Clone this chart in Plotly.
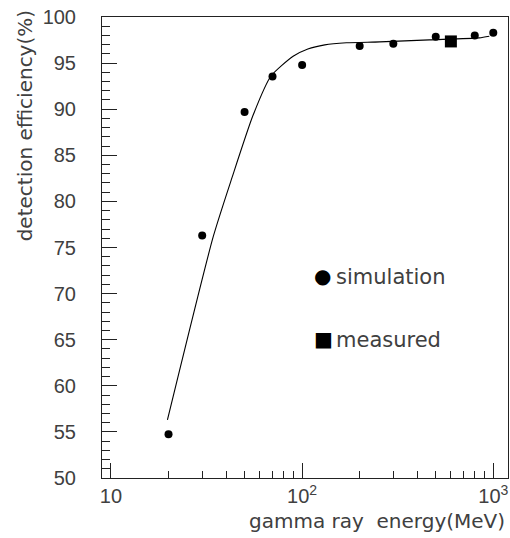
import plotly.graph_objects as go

# simulation points
sim_energy = [20, 30, 50, 70, 100, 200, 300, 500, 800, 1000]
sim_eff = [54.75, 76.3, 89.7, 93.55, 94.8, 96.85, 97.1, 97.85, 98.0, 98.3]

# measured point
meas_energy = [600]
meas_eff = [97.35]

# fitted curve
fit_energy = [19.74, 34.3, 42.96, 55.3, 68.6, 89.7, 107.1, 131.4, 170.5, 254.4, 463, 845, 953]
fit_eff = [56.3, 76.2, 82.57, 89.31, 93.57, 95.74, 96.53, 96.98, 97.2, 97.3, 97.52, 97.74, 97.92]

x_major = [10, 100, 1000]
x_major_text = ["10", "10<sup>2</sup>", "10<sup>3</sup>"]
x_minor = [20, 30, 40, 50, 60, 70, 80, 90, 200, 300, 400, 500, 600, 700, 800, 900]
y_major = [50, 55, 60, 65, 70, 75, 80, 85, 90, 95, 100]
y_minor = list(range(50, 101))

TICKFONT = "Liberation Sans"
FONT = "DejaVu Sans"
TXT = "#404040"

# plot-area pixel geometry
L, R, T, B = 101.7, 508.0, 17.0, 478.0
W, H = 510, 538

fig = go.Figure()
fig.add_trace(go.Scatter(x=fit_energy, y=fit_eff, mode="lines",
                         line=dict(color="black", width=1.1, shape="spline", smoothing=0.6),
                         showlegend=False, hoverinfo="skip"))
fig.add_trace(go.Scatter(x=sim_energy, y=sim_eff, mode="markers",
                         marker=dict(symbol="circle", size=8, color="black"),
                         showlegend=False))
fig.add_trace(go.Scatter(x=meas_energy, y=meas_eff, mode="markers",
                         marker=dict(symbol="square", size=12, color="black"),
                         showlegend=False))

fig.update_xaxes(type="log", range=[0.953, 3.077],
                 tickvals=x_major, ticktext=x_major_text,
                 ticks="inside", ticklen=15, tickcolor="#222", tickwidth=1,
                 minor=dict(ticks="inside", ticklen=7, tickvals=x_minor, tickcolor="#222"),
                 showline=True, linecolor="#222", linewidth=1, mirror=True,
                 showgrid=False, zeroline=False,
                 tickfont=dict(family=TICKFONT, size=20, color=TXT))
fig.update_yaxes(range=[50, 100],
                 tickvals=y_major,
                 ticks="inside", ticklen=15, tickcolor="#222", tickwidth=1,
                 minor=dict(ticks="inside", ticklen=8, tickvals=y_minor, tickcolor="#222"),
                 showline=True, linecolor="#222", linewidth=1, mirror=True,
                 showgrid=False, zeroline=False, ticklabelstandoff=21,
                 tickfont=dict(family=TICKFONT, size=20, color=TXT))


def px(x):
    return (x - L) / (R - L)


def py(y):
    return (B - y) / (B - T)


annots = [
    dict(text="gamma ray&nbsp; energy(MeV)", x=px(507), y=py(521), xanchor="right", size=20),
    dict(text="detection efficiency(%)", x=px(25), y=py(126), textangle=-90, size=20),
    dict(text="●", x=px(322), y=py(276), size=20, color="black"),
    dict(text="simulation", x=px(334), y=py(277), xanchor="left", size=21),
    dict(text="■", x=px(323), y=py(339), size=20, color="black"),
    dict(text="measured", x=px(334), y=py(340), xanchor="left", size=21),
]
layout_annots = []
for a in annots:
    layout_annots.append(dict(
        text=a["text"], x=a["x"], y=a["y"], xref="paper", yref="paper",
        xanchor=a.get("xanchor", "center"), yanchor="middle",
        textangle=a.get("textangle", 0), showarrow=False,
        font=dict(family=FONT, size=a["size"], color=a.get("color", TXT))))

fig.update_layout(width=W, height=H,
                  margin=dict(l=L, r=W - R, t=T, b=H - B, pad=0),
                  paper_bgcolor="white", plot_bgcolor="white",
                  annotations=layout_annots, showlegend=False)

fig.write_html("out.html")
